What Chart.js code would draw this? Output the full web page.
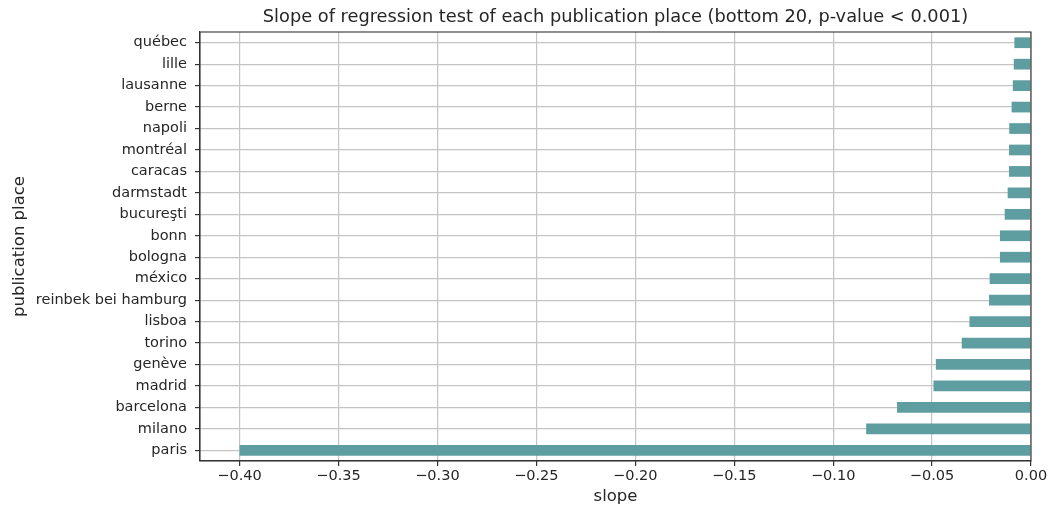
<!DOCTYPE html>
<html>
<head>
<meta charset="utf-8">
<script src="https://cdn.jsdelivr.net/npm/chart.js@4.4.1/dist/chart.umd.min.js"></script>
<style>
  html, body { margin: 0; padding: 0; background: #ffffff; }
  #wrap { width: 1051px; height: 510px; position: relative; }
</style>
</head>
<body>
<div id="wrap"><canvas id="c" width="1051" height="510"></canvas></div>
<script>
const places = ["québec", "lille", "lausanne", "berne", "napoli", "montréal", "caracas", "darmstadt", "bucureşti", "bonn", "bologna", "méxico", "reinbek bei hamburg", "lisboa", "torino", "genève", "madrid", "barcelona", "milano", "paris"];
const slopes = [-0.0084, -0.0087, -0.0092, -0.0098, -0.0110, -0.0111, -0.0111, -0.0118, -0.0133, -0.0157, -0.0157, -0.0209, -0.0212, -0.0311, -0.0350, -0.0481, -0.0493, -0.0677, -0.0833, -0.4000];
const xTicks = [-0.40, -0.35, -0.30, -0.25, -0.20, -0.15, -0.10, -0.05, 0.00];
const xMin = -0.42, xMax = 0.0;
const titleText = 'Slope of regression test of each publication place (bottom 20, p-value < 0.001)';

const FONT = "'DejaVu Sans', sans-serif";
const TEXT = '#262626';

const frame = {
  id: 'frame',
  afterDatasetsDraw(chart) {
    const a = chart.chartArea, ctx = chart.ctx;
    ctx.save();
    ctx.strokeStyle = '#333333';
    ctx.lineWidth = 1.1;
    ctx.strokeRect(a.left, a.top, a.right - a.left, a.bottom - a.top);
    ctx.restore();
  },
  afterDraw(chart) {
    const a = chart.chartArea, ctx = chart.ctx;
    ctx.save();
    ctx.fillStyle = TEXT;
    ctx.font = "17.8px " + FONT;
    ctx.textAlign = 'center';
    ctx.textBaseline = 'middle';
    ctx.fillText(titleText, (a.left + a.right) / 2, 17);
    ctx.restore();
  }
};

new Chart(document.getElementById('c'), {
  type: 'bar',
  data: {
    labels: places,
    datasets: [{
      data: slopes,
      backgroundColor: '#5f9ea0',
      borderWidth: 0,
      barPercentage: 0.5,
      categoryPercentage: 1.0
    }]
  },
  options: {
    indexAxis: 'y',
    responsive: false,
    animation: false,
    layout: { padding: { left: 0, right: 20, top: 32, bottom: 0 } },
    plugins: {
      legend: { display: false },
      tooltip: { enabled: false },
      title: { display: false }
    },
    scales: {
      x: {
        type: 'linear',
        min: xMin,
        max: xMax,
        afterBuildTicks(scale) { scale.ticks = xTicks.map(v => ({ value: v })); },
        afterFit(scale) { scale.height = 49; },
        ticks: {
          color: TEXT,
          font: { family: FONT, size: 14.5 },
          padding: 2,
          maxRotation: 0,
          autoSkip: false,
          callback: (v) => (v < 0 ? '\u2212' : '') + Math.abs(v).toFixed(2)
        },
        grid: { color: '#c4c4c4', lineWidth: 1.2, tickColor: '#333333', tickLength: 5, drawOnChartArea: true },
        border: { display: true, color: '#333333', width: 1.1 },
        title: {
          display: true, text: 'slope', color: TEXT,
          font: { family: FONT, size: 16.5, weight: 'normal' },
          padding: { top: 0, bottom: 3 }
        }
      },
      y: {
        type: 'category',
        offset: true,
        afterFit(scale) { scale.width = 200; },
        ticks: {
          color: TEXT,
          font: { family: FONT, size: 14.5 },
          padding: 8,
          autoSkip: false
        },
        grid: { offset: false, color: '#c4c4c4', lineWidth: 1.2, tickColor: '#333333', tickLength: 5 },
        border: { display: true, color: '#333333', width: 1.1 },
        title: {
          display: true, text: 'publication place', color: TEXT,
          font: { family: FONT, size: 16.5, weight: 'normal' },
          padding: { top: 10, bottom: 0 }
        }
      }
    }
  },
  plugins: [frame]
});
</script>
</body>
</html>
